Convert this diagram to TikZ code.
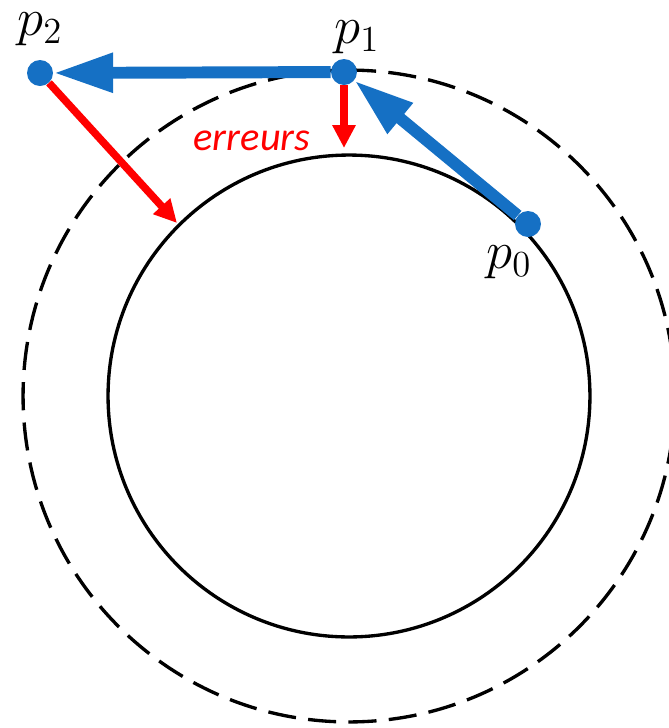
\documentclass[tikz,border=0pt]{standalone}
\usepackage{graphicx}
\usepackage{fontspec}
\newfontfamily\carlito{Carlito}
\usetikzlibrary{arrows.meta}
\definecolor{ptblue}{RGB}{21,112,196}
\definecolor{ptred}{RGB}{255,0,0}
\newcommand{\ptlabel}[1]{\scalebox{1.45}{$#1$}}

\begin{document}
\begin{tikzpicture}[x=0.02cm, y=-0.02cm,
    dot/.style={circle, fill=ptblue, inner sep=0pt, minimum size=0.52cm},
    lbl/.style={inner sep=0pt, font=\fontsize{20.74}{25}\selectfont},
    move/.style={ptblue, line width=6.8pt, -{Triangle[length=34pt, width=21pt]}},
    err/.style={ptred, line width=4.3pt, -{Triangle[length=13pt, width=12.5pt]}}]
    \useasboundingbox (0,0) rectangle (669,728);
    \clip (0,0) rectangle (669,728);
    \draw[line width=1.9pt] (349,396) circle[radius=4.82cm];
    \draw[line width=1.9pt, dash pattern=on 16pt off 7pt] (349,396) circle[radius=6.52cm];

    \node[dot] (p0) at (528,224) {};
    \node[dot] (p1) at (344,72) {};
    \node[dot] (p2) at (40,73) {};
    \coordinate (e1) at (344,148);
    \coordinate (e2) at (177,223);

    \draw[move] (p0) -- (p1);
    \draw[move] (p1) -- (p2);
    \draw[err] (p1) -- (e1);
    \draw[err] (p2) -- (e2);

    \node[lbl] (lp0) at (509,262) {\ptlabel{p_0}};
    \node[lbl] (lp1) at (357,37) {\ptlabel{p_1}};
    \node[lbl] (lp2) at (40,29) {\ptlabel{p_2}};
    \node[inner sep=0pt, text=ptred, font=\carlito\itshape\fontsize{23}{26}\selectfont] (err) at (252,141) {erreurs};
\end{tikzpicture}
\end{document}
